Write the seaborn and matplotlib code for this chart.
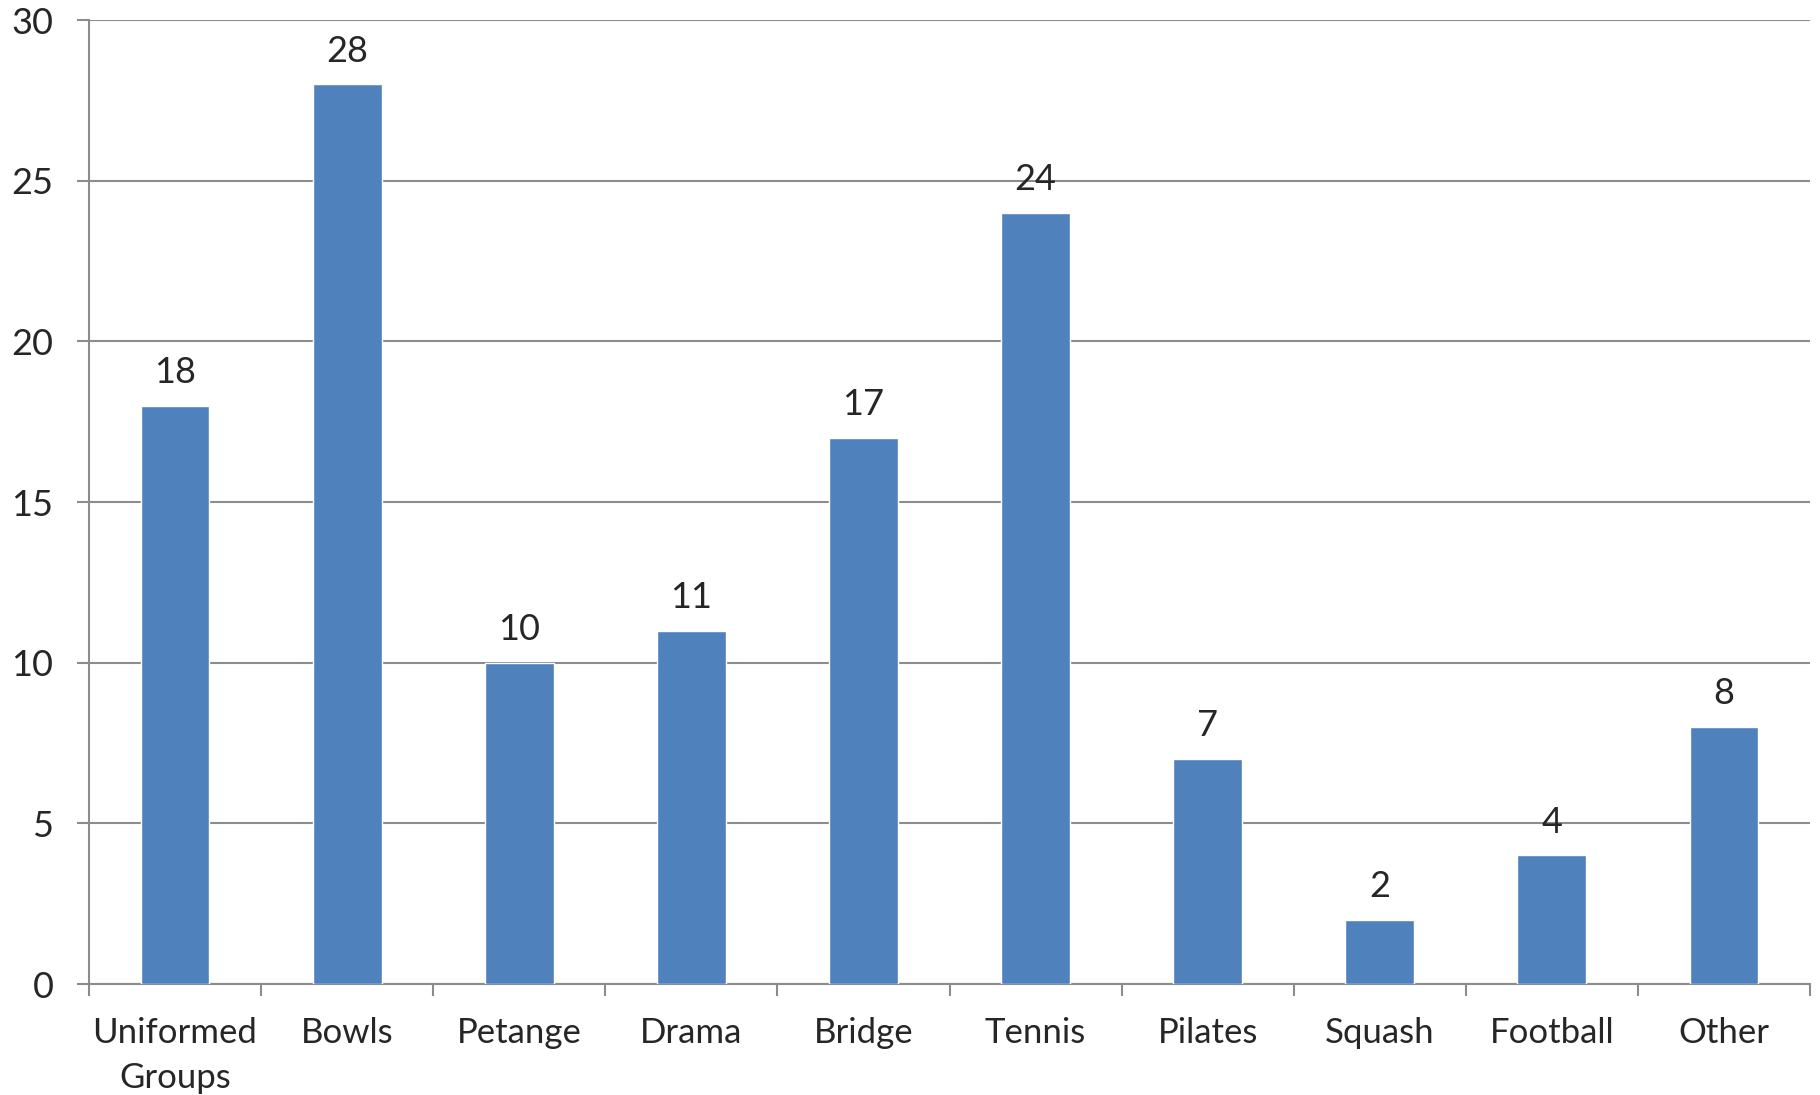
import matplotlib
matplotlib.use("Agg")
import matplotlib.pyplot as plt
import seaborn as sns
import pandas as pd
import numpy as np

categories = ["Uniformed\nGroups", "Bowls", "Petange", "Drama", "Bridge",
              "Tennis", "Pilates", "Squash", "Football", "Other"]
values = [18, 28, 10, 11, 17, 24, 7, 2, 4, 8]
yticks = [0, 5, 10, 15, 20, 25, 30]

sns.set_style("white")
plt.rcParams['font.family'] = ['Lato', 'DejaVu Sans']

df = pd.DataFrame({"cat": categories, "val": values})

fig = plt.figure(figsize=(18.2, 10.95), dpi=100)
ax = fig.add_axes([89/1820, 1 - 984/1095, (1810-89)/1820, (984-20)/1095])

grid_c = "#8c8c8c"
sns.barplot(data=df, x="cat", y="val", color="#4F81BD", saturation=1,
            width=0.4, ax=ax, zorder=3)

ax.set_xlim(-0.5, len(categories) - 0.5)
ax.set_ylim(0, 30)
ax.set_yticks(yticks)
ax.set_yticklabels([str(t) for t in yticks], fontsize=26)
ax.yaxis.grid(True, color=grid_c, linewidth=1.5, zorder=0)
ax.set_axisbelow(True)
ax.set_xlabel("")
ax.set_ylabel("")

for s in ["top", "right"]:
    ax.spines[s].set_visible(False)
for s in ["left", "bottom"]:
    ax.spines[s].set_color(grid_c)
    ax.spines[s].set_linewidth(1.5)

ax.tick_params(axis="y", length=8.6, width=1.5, color=grid_c, pad=17, left=True)
ax.tick_params(axis="x", which="major", length=0, pad=24, labelsize=25)
for lab in ax.get_xticklabels():
    lab.set_linespacing(1.5)
ax.set_xticks(np.arange(-0.5, len(categories), 1.0), minor=True)
ax.tick_params(axis="x", which="minor", length=8.6, width=1.5, color=grid_c, bottom=True)

for c in ax.containers:
    ax.bar_label(c, labels=[str(v) for v in values], padding=12, fontsize=26)

fig.savefig("out.png", dpi=100, facecolor="white")
